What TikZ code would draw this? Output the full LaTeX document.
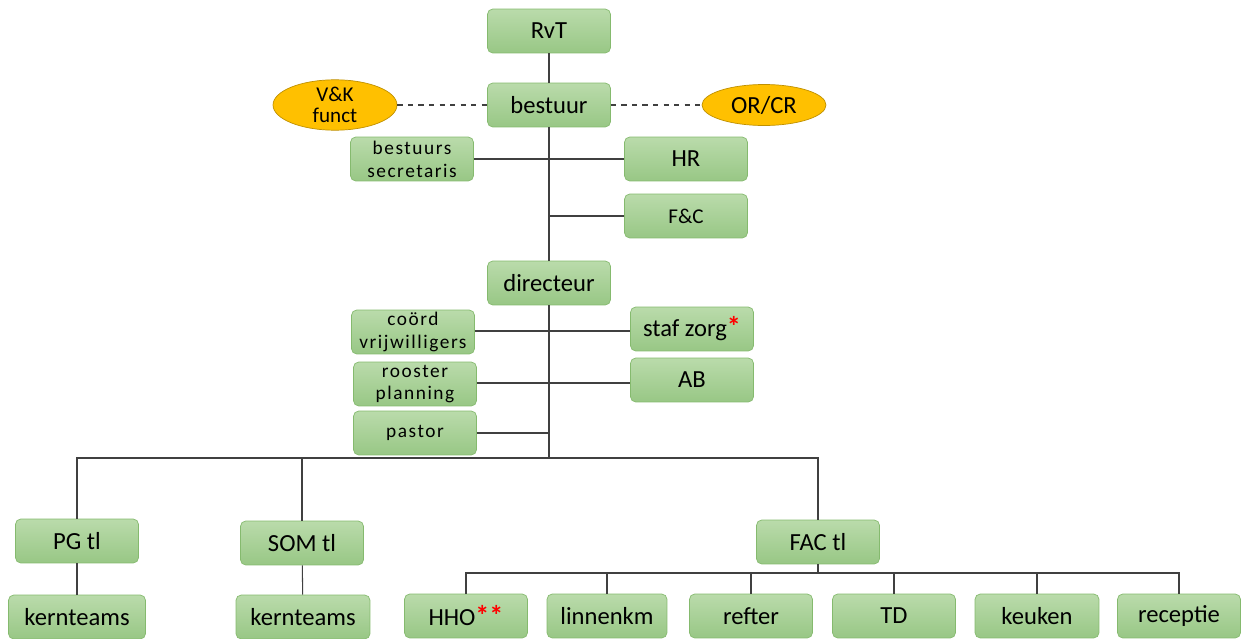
\documentclass[tikz,border=0pt]{standalone}
\usepackage{fontspec}
\setmainfont{Carlito}
\newfontfamily\spacedfont{Carlito}[LetterSpace=8]
\usetikzlibrary{shapes.geometric}

\definecolor{boxtop}{HTML}{BADBAB}
\definecolor{boxbottom}{HTML}{98C785}
\definecolor{boxline}{HTML}{85BA6E}
\definecolor{ovalfill}{HTML}{FFC000}
\definecolor{ovalline}{HTML}{BF9000}
\definecolor{wire}{HTML}{404040}

\newcommand{\redstar}[1]{\textcolor{red}{\fontsize{16}{16}\selectfont\bfseries #1}}

\begin{document}
\begin{tikzpicture}[x = 0.02cm, y = -0.02cm,
	box/.style = {draw = boxline, rounded corners = 3pt, top color = boxtop,
		bottom color = boxbottom, minimum width = 2.46cm, minimum height = 0.88cm,
		inner sep = 0pt, font = \fontsize{14}{16}\selectfont},
	smallbox/.style = {box, align = center, font = \spacedfont\fontsize{11}{13}\selectfont},
	oval/.style = {ellipse, draw = ovalline, fill = ovalfill, minimum width = 2.48cm,
		minimum height = 0.82cm, inner sep = 0pt, align = center},
	wire/.style = {draw = wire, line width = 0.6pt}]

	% Page size

	\useasboundingbox (0, 0) rectangle (1249, 639);

	% Board level

	\node [box] (rvt) at (549, 31) {RvT};
	\node [box] (bestuur) at (549, 105) {bestuur};
	\node [oval, font = \fontsize{12}{12}\selectfont] (vk) at (335, 105) {V\&K\\funct};
	\node [oval, font = \fontsize{14}{16}\selectfont] (orcr) at (764, 105) {OR/CR};

	\node [smallbox] (secr) at (412, 159) {bestuurs\\secretaris};
	\node [box] (hr) at (686, 159) {HR};
	\node [box, font = \fontsize{12}{14}\selectfont] (fc) at (686, 216) {F\&C};

	% Director level

	\node [box] (dir) at (549, 283) {directeur};
	\node [smallbox] (coord) at (413, 332) {coörd\\vrijwilligers};
	\node [box] (staf) at (692, 329) {staf zorg\redstar{*}};
	\node [smallbox] (rooster) at (415, 384) {rooster\\planning};
	\node [box] (ab) at (692, 380) {AB};
	\node [smallbox] (pastor) at (415, 433) {pastor};

	% Team leaders

	\node [box] (pg) at (77, 541) {PG tl};
	\node [box] (som) at (302, 543) {SOM tl};
	\node [box] (fac) at (818, 542) {FAC tl};

	\node [box, minimum width = 2.74cm] (kernpg) at (77, 617) {kernteams};
	\node [box, minimum width = 2.68cm] (kernsom) at (303, 617) {kernteams};

	% Facility services

	\node [box] (hho) at (466, 616) {HHO\redstar{**}};
	\node [box, minimum width = 2.40cm] (linnen) at (607, 616) {linnenkm};
	\node [box] (refter) at (751, 616) {refter};
	\node [box] (td) at (894, 616) {TD};
	\node [box, minimum width = 2.48cm] (keuken) at (1037, 616) {keuken};
	\node [box] (receptie) at (1179, 616) {receptie};

	% Connectors

	\draw [wire] (rvt) -- (bestuur);
	\draw [wire, dashed] (vk) -- (bestuur);
	\draw [wire, dashed] (bestuur) -- (orcr);
	\draw [wire] (bestuur) -- (dir);
	\draw [wire] (secr) -- (hr);
	\draw [wire] (fc.west) -- (fc.west -| bestuur.south);
	\draw [wire] (coord.east) ++(0, -1) -- (staf.west |- 0, 331);
	\draw [wire] (rooster.east) ++(0, -1) -- (ab.west |- 0, 383);
	\draw [wire] (pastor.east) -- (pastor.east -| dir.south);

	\coordinate (hub) at (549, 458);
	\draw [wire] (dir.south) -- (hub);
	\draw [wire] (pg.north) |- (hub) -| (fac.north);
	\draw [wire] (som.north) -- (som.north |- hub);
	\draw [wire] (pg) -- (kernpg);
	\draw [wire] (som) -- (kernsom);

	\coordinate (fachub) at (818, 573);
	\draw [wire] (fac.south) -- (fachub);
	\draw [wire] (hho.north) |- (fachub) -| (receptie.north);
	\foreach \n in {linnen, refter, td, keuken}
		\draw [wire] (\n.north) -- (\n.north |- fachub);

\end{tikzpicture}
\end{document}
